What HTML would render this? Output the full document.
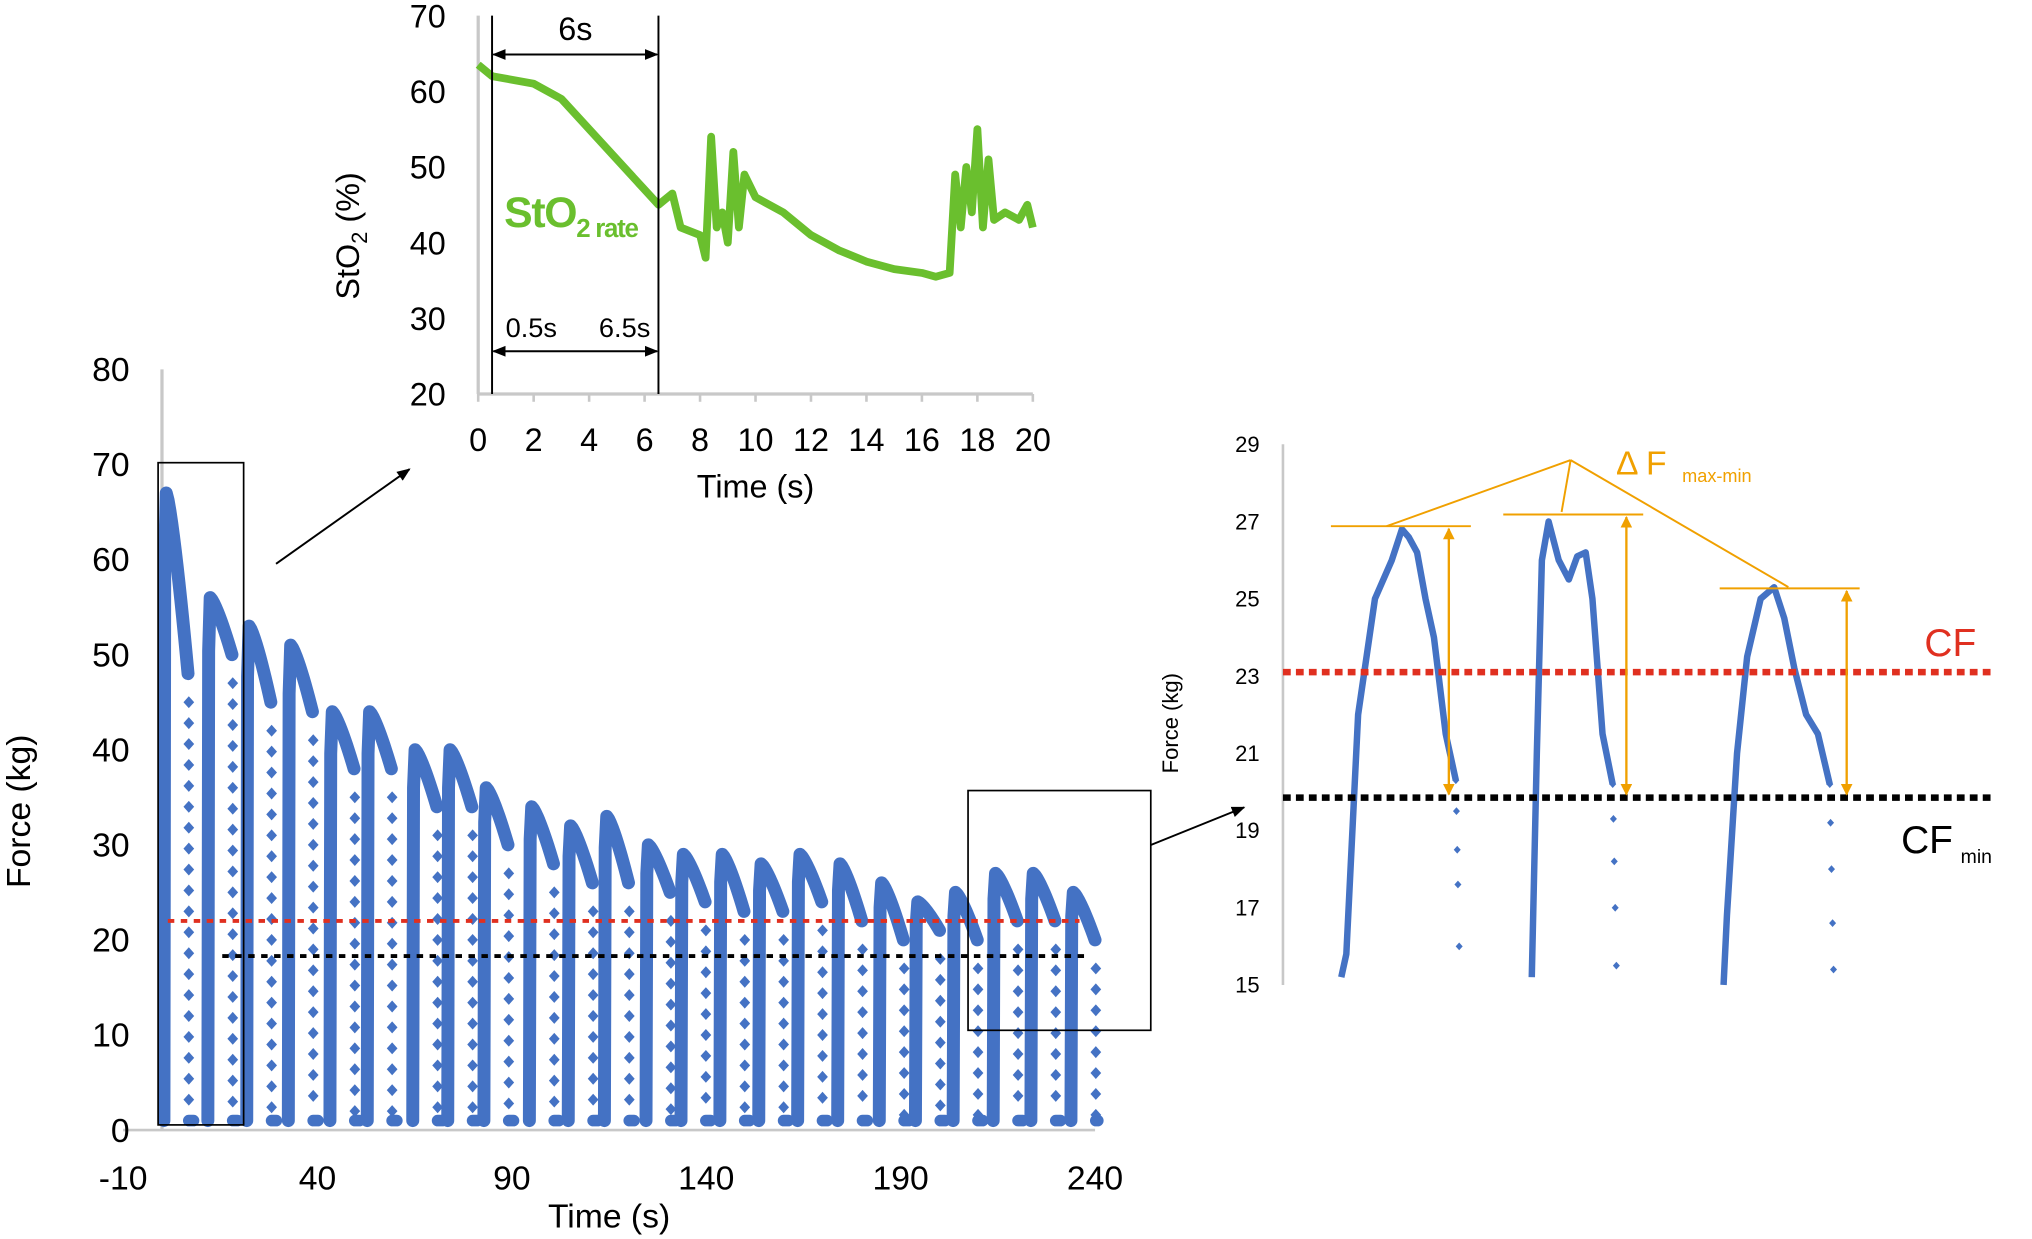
<!DOCTYPE html>
<html><head><meta charset="utf-8"><style>
html,body{margin:0;padding:0;background:#fff;}
svg{display:block;font-family:"Liberation Sans",sans-serif;}
</style></head><body>
<svg id="svg" width="2032" height="1239" viewBox="0 0 1568 956" xmlns="http://www.w3.org/2000/svg">
<defs>
<marker id="ah" viewBox="0 0 10 10" refX="9" refY="5" markerWidth="7" markerHeight="7" orient="auto-start-reverse"><path d="M0,1 L10,5 L0,9 z" fill="#000"/></marker>
<marker id="ao" viewBox="0 0 10 10" refX="9" refY="5" markerWidth="5" markerHeight="5" orient="auto-start-reverse"><path d="M0,0 L10,5 L0,10 z" fill="#f0a000"/></marker>
</defs>
<g id="main"></g>
<g id="inset"></g>
<g id="zoom"></g>
</svg>
<script>
// ---- main chart data ----
const mainXTicks = [-10, 40, 90, 140, 190, 240];
const mainYTicks = [0, 10, 20, 30, 40, 50, 60, 70, 80];
const cycleStart = [0.5, 11.8, 21.8, 32.5, 43.2, 52.8, 64.5, 73.5, 82.8, 94.5, 104.5, 113.8, 124.5, 133.5, 143.5, 153.5, 163.5, 173.8, 184.5, 193.8, 203.5, 213.8, 223.5, 233.8];
const cyclePeak = [67, 56, 53, 51, 44, 44, 40, 40, 36, 34, 32, 33, 30, 29, 29, 28, 29, 28, 26, 24, 25, 27, 27, 25];
const cycleEnd = [48, 50, 45, 44, 38, 38, 34, 34, 30, 28, 26, 26, 25, 24, 23, 23, 24, 22, 20, 21, 20, 22, 22, 20];
const cfLevel = 22, cfMinLevel = 18.3;
// ---- inset data ----
const insetXTicks = [0,2,4,6,8,10,12,14,16,18,20];
const insetYTicks = [20,30,40,50,60,70];
const stoT = [0,0.5,2,3,4,5,6,6.5,7,7.3,8,8.2,8.4,8.6,8.8,9,9.2,9.4,9.6,10,11,12,13,14,15,16,16.5,17,17.2,17.4,17.6,17.8,18,18.2,18.4,18.6,19,19.5,19.8,20];
const stoV = [63.5,62,61,59,55,51,47,45,46.5,42,41,38,54,42,44,40,52,42,49,46,44,41,39,37.5,36.5,36,35.5,36,49,42,50,44,55,42,51,43,44,43,45,42];
// ---- zoomed chart data ----
const zoomYTicks = [15,17,19,21,23,25,27,29];
const zX = [[0,0.3,1,2,3,3.6,4,4.5,5,5.5,6.2,6.8],[0,0.3,0.6,1,1.6,2.2,2.7,3.2,3.6,4.2,4.8],[0,0.2,0.8,1.4,2.2,3,3.6,4.2,4.9,5.6,6.3]];
const zV = [[15.2,15.8,22,25,26,26.8,26.6,26.2,25,24,21.5,20.3],[15.2,21,26,27,26,25.5,26.1,26.2,25,21.5,20.2],[15,16.8,21,23.5,25,25.3,24.5,23.2,22,21.5,20.2]];
const zStartX = [1035,1182,1330];
const zDropV = [[20.3,19.5,18.5,17.6,16],[20.2,19.3,18.2,17,15.5],[20.2,19.2,18,16.6,15.4]];

const NS="http://www.w3.org/2000/svg";
function mk(tag,attrs,parent,text){const e=document.createElementNS(NS,tag);for(const k in attrs)e.setAttribute(k,attrs[k]);if(text!==undefined)e.textContent=text;parent.appendChild(e);return e;}
const BLUE="#4472c4";

// MAIN
const gm=document.getElementById('main');
const mx=t=>95+(t+10)*3, my=v=>872-v*7.3375;
let e;
e=mk('line',{x1:mx(-10),x2:mx(240),y1:my(0),y2:my(0),stroke:'#c8c8c8','stroke-width':2},gm);


e=mk('line',{x1:mx(0),x2:mx(0),y1:my(80),y2:my(0),stroke:'#c8c8c8','stroke-width':2.5},gm);


mainXTicks.forEach(t=>{e=mk('text',{x:mx(t),y:918,'font-size':26,'text-anchor':'middle'},gm,String(t));

});
mainYTicks.forEach(v=>{e=mk('text',{x:100,y:my(v)+9,'font-size':26,'text-anchor':'end'},gm,String(v));

});
e=mk('text',{x:470,y:947,'font-size':26,'text-anchor':'middle'},gm,'Time (s)');


e=mk('text',{x:0,y:0,'font-size':26,'text-anchor':'middle',transform:'translate(23,626) rotate(-90)'},gm,'Force (kg)');


function dia(g,x,y,r){return mk('path',{d:`M${x},${y-r}L${x+r*0.9},${y}L${x},${y+r}L${x-r*0.9},${y}Z`,fill:BLUE},g);}
cycleStart.forEach((s,i)=>{
  const g=mk('g',{},gm);
  
  
  const p=cyclePeak[i],en=cycleEnd[i];
  let pts=[[mx(s),my(1)],[mx(s+0.2),my(p*0.9)],[mx(s+0.6),my(p)]];
  const n=12;
  for(let k=1;k<=n;k++){const f=k/n;const t=s+0.6+f*5.6;const v=p-(p-en)*Math.pow(f,1.3);pts.push([mx(t),my(v)]);}
  mk('polyline',{points:pts.map(q=>q.join(',')).join(' '),fill:'none',stroke:BLUE,'stroke-width':10,'stroke-linejoin':'round','stroke-linecap':'round'},g);
  const tf=s+6.4;
  for(let v=en-3;v>1.5;v-=2.2) dia(g,mx(tf),my(v),4.6);
  const nextS=i+1<cycleStart.length?cycleStart[i+1]:tf+0.5;
  mk('line',{x1:mx(tf),x2:mx(Math.min(nextS,tf+1.2)),y1:my(1),y2:my(1),stroke:BLUE,'stroke-width':9,'stroke-linecap':'round'},g);
});
e=mk('line',{x1:mx(1.5),x2:mx(236),y1:my(cfLevel),y2:my(cfLevel),stroke:'#e03020','stroke-width':3,'stroke-dasharray':'5,5'},gm);


e=mk('line',{x1:mx(15.5),x2:mx(238.5),y1:my(cfMinLevel),y2:my(cfMinLevel),stroke:'#000','stroke-width':3,'stroke-dasharray':'5,5'},gm);


e=mk('rect',{x:122,y:357,width:66,height:511,fill:'none',stroke:'#000','stroke-width':1.3},gm);


e=mk('rect',{x:747,y:610,width:141,height:185,fill:'none',stroke:'#000','stroke-width':1.3},gm);


e=mk('line',{x1:213,y1:435,x2:316,y2:362,stroke:'#000','stroke-width':1.5,'marker-end':'url(#ah)'},gm);


e=mk('line',{x1:888,y1:652,x2:960,y2:623,stroke:'#000','stroke-width':1.5,'marker-end':'url(#ah)'},gm);



// INSET
const gi=document.getElementById('inset');
const ix=t=>369+t*21.4, iy=v=>304-(v-20)*5.84;
e=mk('line',{x1:ix(0),x2:ix(0),y1:iy(70),y2:iy(20),stroke:'#c8c8c8','stroke-width':2.5},gi);


e=mk('line',{x1:ix(0),x2:ix(20),y1:iy(20),y2:iy(20),stroke:'#c8c8c8','stroke-width':2.5},gi);


insetXTicks.forEach(t=>{mk('line',{x1:ix(t),x2:ix(t),y1:iy(20),y2:iy(20)+6,stroke:'#c8c8c8','stroke-width':2},gi);
e=mk('text',{x:ix(t),y:348,'font-size':25,'text-anchor':'middle'},gi,String(t));

});
insetYTicks.forEach(v=>{e=mk('text',{x:344,y:iy(v)+9,'font-size':25,'text-anchor':'end'},gi,String(v));

});
e=mk('text',{x:583,y:384,'font-size':25,'text-anchor':'middle'},gi,'Time (s)');


e=mk('text',{x:0,y:0,'font-size':25,'text-anchor':'middle',transform:'translate(277,182) rotate(-90)'},gi);
e.innerHTML='StO<tspan font-size="17" dy="6">2</tspan><tspan dy="-6"> (%)</tspan>';


e=mk('polyline',{points:stoT.map((t,i)=>ix(t)+','+iy(stoV[i])).join(' '),fill:'none',stroke:'#6abf2e','stroke-width':6,'stroke-linejoin':'round'},gi);


[0.5,6.5].forEach(t=>{e=mk('line',{x1:ix(t),x2:ix(t),y1:12,y2:304,stroke:'#000','stroke-width':1.5},gi);

});
e=mk('line',{x1:ix(0.5)+1,x2:ix(6.5)-1,y1:42,y2:42,stroke:'#000','stroke-width':1.5,'marker-start':'url(#ah)','marker-end':'url(#ah)'},gi);


e=mk('line',{x1:ix(0.5)+1,x2:ix(6.5)-1,y1:271,y2:271,stroke:'#000','stroke-width':1.5,'marker-start':'url(#ah)','marker-end':'url(#ah)'},gi);


e=mk('text',{x:444,y:31,'font-size':25,'text-anchor':'middle'},gi,'6s');


e=mk('text',{x:410,y:260,'font-size':21,'text-anchor':'middle'},gi,'0.5s');


e=mk('text',{x:482,y:260,'font-size':21,'text-anchor':'middle'},gi,'6.5s');


e=mk('text',{x:389,y:175,'font-size':33,'font-weight':'bold',fill:'#6abf2e','letter-spacing':'-1'},gi);
e.innerHTML='StO<tspan font-size="20" dy="8">2 rate</tspan>';



// ZOOM
const gz=document.getElementById('zoom');
const zy=v=>760-(v-15)*29.8;
e=mk('line',{x1:990,x2:990,y1:zy(29),y2:zy(15),stroke:'#c8c8c8','stroke-width':2},gz);


zoomYTicks.forEach(v=>{e=mk('text',{x:972,y:zy(v)+6,'font-size':17,'text-anchor':'end'},gz,String(v));

});
e=mk('text',{x:0,y:0,'font-size':17,'text-anchor':'middle',transform:'translate(909,558) rotate(-90)'},gz,'Force (kg)');


zX.forEach((xs,i)=>{
  const g=mk('g',{},gz);
  
  
  const px=u=>zStartX[i]+u*13;
  mk('polyline',{points:xs.map((u,k)=>px(u)+','+zy(zV[i][k])).join(' '),fill:'none',stroke:BLUE,'stroke-width':5,'stroke-linejoin':'round'},g);
  const lx=px(xs[xs.length-1]);
  zDropV[i].forEach(v=>dia(g,lx+(20.3-v)*0.6,zy(v),3));
});
e=mk('line',{x1:990,x2:1537,y1:zy(23.1),y2:zy(23.1),stroke:'#e03020','stroke-width':5,'stroke-dasharray':'6,4'},gz);


e=mk('line',{x1:990,x2:1537,y1:zy(19.85),y2:zy(19.85),stroke:'#000','stroke-width':5,'stroke-dasharray':'6,4'},gz);


e=mk('text',{x:1485,y:506,'font-size':30,fill:'#e03020'},gz,'CF');


e=mk('text',{x:1467,y:658,'font-size':30,fill:'#000'},gz);
e.innerHTML='CF<tspan font-size="15" dx="6" dy="8">min</tspan>';


[[1027,1135,406,1118],[1160,1268,397,1255],[1327,1435,454,1425]].forEach(a=>{
  e=mk('line',{x1:a[0],x2:a[1],y1:a[2],y2:a[2],stroke:'#f0a000','stroke-width':1.5},gz);
  
  
  e=mk('line',{x1:a[3],x2:a[3],y1:a[2]+2,y2:613,stroke:'#f0a000','stroke-width':1.8,'marker-start':'url(#ao)','marker-end':'url(#ao)'},gz);
  
  
});
[[1070,406],[1205,395],[1380,453]].forEach(p=>{e=mk('line',{x1:1212,y1:355,x2:p[0],y2:p[1],stroke:'#f0a000','stroke-width':1.5},gz);

});
e=mk('text',{x:1247,y:366,'font-size':26,fill:'#f0a000'},gz);
e.innerHTML='Δ F<tspan font-size="14" dx="12" dy="6">max-min</tspan>';


</script>
</body></html>
